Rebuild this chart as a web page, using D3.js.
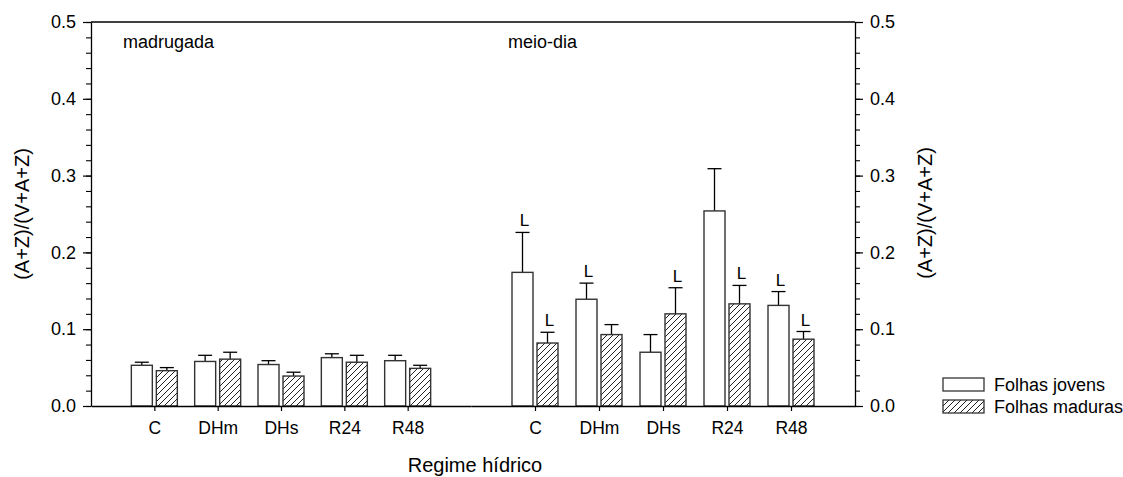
<!DOCTYPE html>
<html>
<head>
<meta charset="utf-8">
<script src="https://cdn.jsdelivr.net/npm/d3@7"></script>
<style>
  body { margin: 0; background: #fff; }
  text { font-family: "Liberation Sans", Arial, sans-serif; fill: #000; }
</style>
</head>
<body>
<script>
// dados
var categorias = ["C", "DHm", "DHs", "R24", "R48"];
var paineis = ["madrugada", "meio-dia"];
var series = ["Folhas jovens", "Folhas maduras"];

var madrugadaJovens = [0.053, 0.058, 0.054, 0.063, 0.059];
var madrugadaJovensErro = [0.004, 0.008, 0.005, 0.005, 0.007];
var madrugadaMaduras = [0.046, 0.061, 0.039, 0.057, 0.049];
var madrugadaMadurasErro = [0.004, 0.009, 0.005, 0.009, 0.004];

var meioDiaJovens = [0.174, 0.139, 0.070, 0.254, 0.131];
var meioDiaJovensErro = [0.052, 0.021, 0.023, 0.055, 0.018];
var meioDiaMaduras = [0.082, 0.093, 0.120, 0.133, 0.087];
var meioDiaMadurasErro = [0.014, 0.013, 0.034, 0.024, 0.010];

// letras "L" de significância (só no meio-dia)
var meioDiaJovensL = [true, true, false, false, true];
var meioDiaMadurasL = [true, false, true, true, true];

var yTicks = [0, 0.1, 0.2, 0.3, 0.4, 0.5];

var width = 1123, height = 477;
var svg = d3.select("body").append("svg")
    .attr("width", width)
    .attr("height", height);

// padrão de hachura
svg.append("defs").append("pattern")
    .attr("id", "hatch")
    .attr("patternUnits", "userSpaceOnUse")
    .attr("width", 6).attr("height", 6)
    .append("path")
    .attr("d", "M-1,1 l2,-2 M0,6 l6,-6 M5,7 l2,-2")
    .attr("stroke", "#222")
    .attr("stroke-width", 1);

var xLeft = 91, xMid = 471, xRight = 855, yTop = 22, yBottom = 406;

var y = d3.scaleLinear().domain([0, 0.5]).range([yBottom, yTop]);
var xPaineis = [
  d3.scalePoint().domain(categorias).range([xLeft, xMid]).padding(1),
  d3.scalePoint().domain(categorias).range([xMid, xRight]).padding(1)
];

var barW = 21, gap = 4;

var dados = [
  [
    { v: madrugadaJovens, e: madrugadaJovensErro, L: null, fill: "#fff" },
    { v: madrugadaMaduras, e: madrugadaMadurasErro, L: null, fill: "url(#hatch)" }
  ],
  [
    { v: meioDiaJovens, e: meioDiaJovensErro, L: meioDiaJovensL, fill: "#fff" },
    { v: meioDiaMaduras, e: meioDiaMadurasErro, L: meioDiaMadurasL, fill: "url(#hatch)" }
  ]
];

// moldura superior
svg.append("line")
    .attr("x1", xLeft).attr("x2", xRight)
    .attr("y1", yTop).attr("y2", yTop)
    .attr("stroke", "#000").attr("stroke-width", 1.3);

dados.forEach(function(painel, p) {
  var x = xPaineis[p];

  painel.forEach(function(s, si) {
    var off = si === 0 ? -(barW + gap / 2) : gap / 2;
    var g = svg.append("g");

    // barras de erro (só para cima)
    g.selectAll("line.err")
      .data(categorias)
      .enter().append("line")
      .attr("x1", function(d) { return x(d) + off + barW / 2; })
      .attr("x2", function(d) { return x(d) + off + barW / 2; })
      .attr("y1", function(d, i) { return y(s.v[i]); })
      .attr("y2", function(d, i) { return y(s.v[i] + s.e[i]); })
      .attr("stroke", "#000").attr("stroke-width", 1.3);

    g.selectAll("line.cap")
      .data(categorias)
      .enter().append("line")
      .attr("x1", function(d) { return x(d) + off + barW / 2 - 7; })
      .attr("x2", function(d) { return x(d) + off + barW / 2 + 7; })
      .attr("y1", function(d, i) { return y(s.v[i] + s.e[i]); })
      .attr("y2", function(d, i) { return y(s.v[i] + s.e[i]); })
      .attr("stroke", "#000").attr("stroke-width", 1.3);

    g.selectAll("rect")
      .data(categorias)
      .enter().append("rect")
      .attr("x", function(d) { return x(d) + off; })
      .attr("y", function(d, i) { return y(s.v[i]); })
      .attr("width", barW)
      .attr("height", function(d, i) { return y(0) - y(s.v[i]); })
      .attr("fill", s.fill)
      .attr("stroke", "#333")
      .attr("stroke-width", 1.4);

    if (s.L) {
      g.selectAll("text.L")
        .data(categorias.filter(function(d, i) { return s.L[i]; }))
        .enter().append("text")
        .attr("x", function(d) { return x(d) + off + barW / 2 + 2; })
        .attr("y", function(d) {
          var i = categorias.indexOf(d);
          return y(s.v[i] + s.e[i]) - 6;
        })
        .attr("text-anchor", "middle")
        .style("font-size", "17px")
        .text("L");
    }
  });

  // eixo x do painel
  var ax = svg.append("g")
      .attr("transform", "translate(0," + yBottom + ")")
      .call(d3.axisBottom(x).tickSize(5).tickPadding(11).tickSizeOuter(0));
  ax.select(".domain").attr("stroke-width", 1.3);
  ax.selectAll(".tick line").attr("stroke-width", 1.2);
  ax.selectAll("text").style("font-size", "17.5px");

  svg.append("text")
      .attr("x", p === 0 ? 123 : 508)
      .attr("y", 48)
      .style("font-size", "18px")
      .text(paineis[p]);
});

// eixos y (esquerda e direita)
var minor = d3.range(0, 0.5001, 0.02);
[["left", xLeft], ["right", xRight]].forEach(function(a) {
  var axisFn = a[0] === "left" ? d3.axisLeft : d3.axisRight;
  svg.append("g")
      .attr("transform", "translate(" + a[1] + ",0)")
      .call(axisFn(y).tickValues(minor).tickSize(5).tickFormat("").tickSizeOuter(0))
      .call(function(g) { g.select(".domain").remove(); })
      .selectAll("line").attr("stroke-width", 1.1);
  var g = svg.append("g")
      .attr("transform", "translate(" + a[1] + ",0)")
      .call(axisFn(y).tickValues(yTicks).tickFormat(d3.format(".1f")).tickSize(8).tickPadding(7).tickSizeOuter(0));
  g.select(".domain").attr("stroke-width", 1.3);
  g.selectAll(".tick line").attr("stroke-width", 1.2);
  g.selectAll("text").style("font-size", "18px");
});

// títulos
svg.append("text")
    .attr("transform", "translate(29,214) rotate(-90)")
    .attr("text-anchor", "middle")
    .style("font-size", "20px")
    .text("(A+Z)/(V+A+Z)");
svg.append("text")
    .attr("transform", "translate(932,213) rotate(-90)")
    .attr("text-anchor", "middle")
    .style("font-size", "20px")
    .text("(A+Z)/(V+A+Z)");
svg.append("text")
    .attr("x", 475).attr("y", 472)
    .attr("text-anchor", "middle")
    .style("font-size", "20px")
    .text("Regime hídrico");

// legenda
var leg = svg.append("g").attr("transform", "translate(943,378)");
var legItems = leg.selectAll("g")
    .data(series)
    .enter().append("g")
    .attr("transform", function(d, i) { return "translate(0," + i * 22 + ")"; });
legItems.append("rect")
    .attr("width", 41).attr("height", 13)
    .attr("fill", function(d, i) { return i === 0 ? "#fff" : "url(#hatch)"; })
    .attr("stroke", "#333").attr("stroke-width", 1.3);
legItems.append("text")
    .attr("x", 51).attr("y", 13)
    .style("font-size", "18px")
    .text(function(d) { return d; });
</script>
</body>
</html>
